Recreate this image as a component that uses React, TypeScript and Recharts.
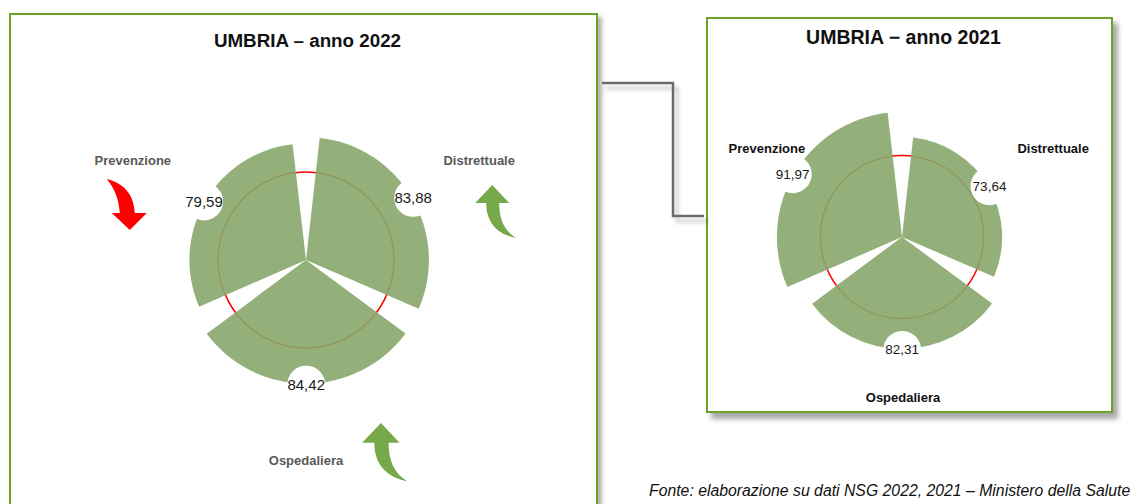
import { RadialBarChart, RadialBar, PolarAngleAxis, PolarRadiusAxis, PolarGrid, LabelList } from "recharts";

// Punteggi NSG per area (Umbria), 2022 e 2021.
const categorie = ["Prevenzione", "Distrettuale", "Ospedaliera"];
const punteggi2022 = [79.59, 83.88, 84.42];
const punteggi2021 = [91.97, 73.64, 82.31];
const sogliaLEA = 60;
const scalaMax = 100;

const dati2022 = categorie.map((nome, i) => ({ nome, punteggio: punteggi2022[i], precedente: punteggi2021[i] }));
const dati2021 = categorie.map((nome, i) => ({ nome, punteggio: punteggi2021[i], precedente: punteggi2021[i] }));

const FONT = '"Liberation Sans", Arial, sans-serif';
const VERDE = "#87a76c";
const BORDO = "#6ea226";

// frecce curve (coordinate locali)
const FRECCIA_GIU = "M4,0 C20,4 31,14 32,34 L44,34 L27,51 L9,34 L17,34 C16,20 12,10 4,0 Z";
const FRECCIA_SU = "M19,0 L36,18 L26,18 C26,34 31,46 43,53 C27,50 13,40 13,18 L2,18 Z";

const posFrecce: Record<string, [number, number, number]> = {
  Prevenzione: [-30, 19, 1],
  Distrettuale: [-6, 25, 1],
  Ospedaliera: [54, -37, 1.1],
};

const fmt = (v: number) => v.toFixed(2).replace(".", ",");

type Props = {
  dati: { nome: string; punteggio: number; precedente: number }[];
  width: number;
  height: number;
  cx: number;
  cy: number;
  outerRadius: number;
  labelRadius: number;
  labelColor: string;
  valueSize: number;
  frecce?: boolean;
  nudge?: Record<string, [number, number]>;
};

function RosaNSG({ dati, width, height, cx, cy, outerRadius, labelRadius, labelColor, valueSize, frecce, nudge }: Props) {
  const renderTick = (props: any) => {
    const { payload } = props;
    // il tick cade all'inizio della banda: sposto al centro
    const ang = payload.coordinate + 180 / dati.length;
    const rad = (-ang * Math.PI) / 180;
    const n = nudge?.[payload.value] ?? [0, 0];
    const x = cx + labelRadius * Math.cos(rad) + n[0];
    const y = cy + labelRadius * Math.sin(rad) + n[1];
    const riga = dati.find((d) => d.nome === payload.value);
    let freccia = null;
    if (frecce && riga) {
      const su = riga.punteggio >= riga.precedente;
      const [ox, oy, s] = posFrecce[riga.nome];
      freccia = (
        <path
          d={su ? FRECCIA_SU : FRECCIA_GIU}
          fill={su ? "#77a84a" : "#ff0000"}
          transform={`translate(${x + ox},${y + oy}) scale(${s})`}
        />
      );
    }
    return (
      <g>
        <text
          x={x}
          y={y}
          textAnchor="middle"
          dominantBaseline="central"
          fontFamily={FONT}
          fontSize={13}
          fontWeight="bold"
          fill={labelColor}
        >
          {payload.value}
        </text>
        {freccia}
      </g>
    );
  };

  const renderValore = (props: any) => {
    const vb = props.viewBox;
    if (!vb) return null;
    const mid = ((vb.startAngle + vb.endAngle) / 2) * (Math.PI / 180);
    const r = vb.outerRadius + 1;
    const x = vb.cx + r * Math.cos(-mid);
    const y = vb.cy + r * Math.sin(-mid);
    return (
      <g>
        <circle cx={x} cy={y} r={19} fill="#ffffff" />
        <text x={x} y={y} textAnchor="middle" dominantBaseline="central" fontFamily={FONT} fontSize={valueSize} fill="#1a1a1a">
          {fmt(Number(props.value))}
        </text>
      </g>
    );
  };

  return (
    <RadialBarChart
      width={width}
      height={height}
      data={dati}
      layout="centric"
      cx={cx}
      cy={cy}
      innerRadius={0}
      outerRadius={outerRadius}
      startAngle={90}
      endAngle={-270}
      barCategoryGap="5.5%"
      margin={{ top: 0, right: 0, bottom: 0, left: 0 }}
    >
      <PolarGrid
        gridType="circle"
        polarAngles={[]}
        polarRadius={[(outerRadius * sogliaLEA) / scalaMax]}
        stroke="#ff0000"
        strokeWidth={1.5}
      />
      <PolarAngleAxis type="category" dataKey="nome" axisLine={false} tickLine={false} tick={renderTick} />
      <PolarRadiusAxis type="number" domain={[0, scalaMax]} tick={false} axisLine={false} />
      <RadialBar dataKey="punteggio" fill={VERDE} fillOpacity={0.9} isAnimationActive={false}>
        <LabelList dataKey="punteggio" content={renderValore} />
      </RadialBar>
    </RadialBarChart>
  );
}

export default function App() {
  return (
    <div style={{ position: "absolute", left: 0, top: 0, width: 1133, height: 504, overflow: "hidden", background: "#fff", fontFamily: FONT }}>
      {/* riquadro sinistro */}
      <div
        style={{
          position: "absolute",
          left: 9,
          top: 13,
          width: 585,
          height: 560,
          border: `2px solid ${BORDO}`,
          boxShadow: "4px 4px 4px rgba(0,0,0,0.3)",
        }}
      />
      {/* riquadro destro */}
      <div
        style={{
          position: "absolute",
          left: 706,
          top: 17,
          width: 403,
          height: 392,
          border: `2px solid ${BORDO}`,
          boxShadow: "5px 6px 5px rgba(0,0,0,0.35)",
        }}
      />
      {/* connettore */}
      <svg style={{ position: "absolute", left: 0, top: 0 }} width={1133} height={504}>
        <defs>
          <filter id="ombra" x="-20%" y="-20%" width="150%" height="150%">
            <feDropShadow dx={4} dy={5} stdDeviation={2} floodColor="#000" floodOpacity={0.25} />
          </filter>
        </defs>
        <polyline
          points="602,83 673,83 673,216 704,216"
          fill="none"
          stroke="#6b6b6b"
          strokeWidth={2.5}
          filter="url(#ombra)"
        />
      </svg>

      <div style={{ position: "absolute", left: 9, top: 30, width: 597, textAlign: "center", fontSize: 18.8, fontWeight: "bold", color: "#111" }}>
        UMBRIA – anno 2022
      </div>
      <div style={{ position: "absolute", left: 706, top: 26, width: 395, textAlign: "center", fontSize: 19.5, fontWeight: "bold", color: "#111" }}>
        UMBRIA − anno 2021
      </div>

      <div style={{ position: "absolute", left: 0, top: 0 }}>
        <RosaNSG
          dati={dati2022}
          width={600}
          height={504}
          cx={306}
          cy={260}
          outerRadius={146.5}
          labelRadius={200}
          labelColor="#595959"
          valueSize={15}
          frecce
        />
      </div>
      <div style={{ position: "absolute", left: 700, top: 0 }}>
        <RosaNSG
          dati={dati2021}
          width={433}
          height={420}
          cx={202}
          cy={237}
          outerRadius={136}
          labelRadius={163}
          labelColor="#111"
          valueSize={13.5}
          nudge={{ Prevenzione: [6, -7], Distrettuale: [10, -7], Ospedaliera: [1, -3] }}
        />
      </div>

      <div style={{ position: "absolute", left: 649, top: 482, fontSize: 15.8, fontStyle: "italic", color: "#111", whiteSpace: "nowrap" }}>
        Fonte: elaborazione su dati NSG 2022, 2021 – Ministero della Salute
      </div>
    </div>
  );
}
